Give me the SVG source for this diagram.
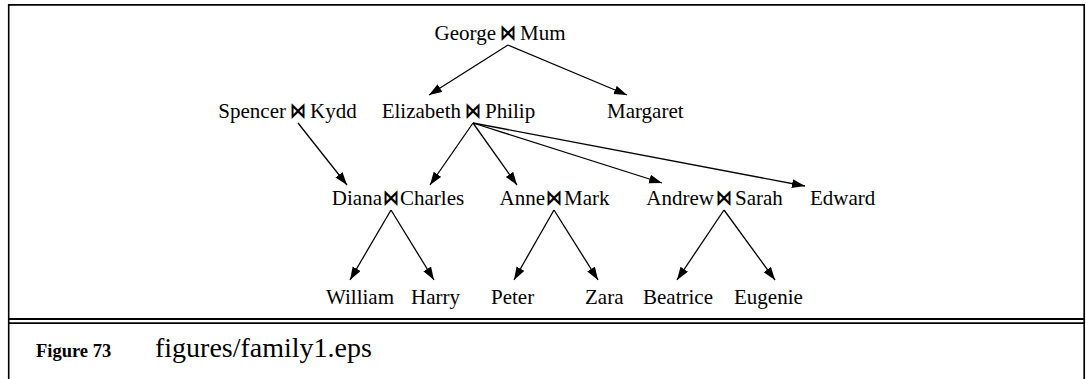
<svg xmlns="http://www.w3.org/2000/svg" width="1086" height="379" viewBox="0 0 1086 379">
<defs>
<style>
.t{font-family:"Liberation Serif","DejaVu Serif",serif;font-size:21px;fill:#000}
.b{font-family:"DejaVu Sans","DejaVu Serif",sans-serif;font-size:22px;font-weight:bold;fill:#000}
.e{stroke:#000;stroke-width:1.3;fill:none;marker-end:url(#ah)}
.f{stroke:#000;fill:none}
</style>
<marker id="ah" markerUnits="userSpaceOnUse" markerWidth="14" markerHeight="10" refX="13" refY="4.5" orient="auto">
<path d="M0,0 L13,4.5 L0,9 z" fill="#000"/>
</marker>
</defs>
<rect width="1086" height="379" fill="#fff"/>
<g id="frame">
<line class="f" x1="8" y1="4.8" x2="1085" y2="4.8" stroke-width="1.8"/>
<line class="f" x1="8.7" y1="4" x2="8.7" y2="379" stroke-width="1.6"/>
<line class="f" x1="1084.2" y1="4" x2="1084.2" y2="379" stroke-width="1.7"/>
<line class="f" x1="8" y1="319" x2="1085" y2="319" stroke-width="1.8"/>
<line class="f" x1="8" y1="323.2" x2="1085" y2="323.2" stroke-width="1.8"/>
</g>
<g id="connectors">
<line class="e" x1="508" y1="45" x2="429" y2="95"/>
<line class="e" x1="508" y1="45" x2="627" y2="95"/>
<line class="e" x1="298" y1="123" x2="347" y2="185"/>
<line class="e" x1="473" y1="123" x2="430" y2="185"/>
<line class="e" x1="473" y1="123" x2="517" y2="185"/>
<line class="e" x1="473" y1="123" x2="662" y2="183"/>
<line class="e" x1="473" y1="123" x2="805" y2="186"/>
<line class="e" x1="391" y1="210" x2="350" y2="280"/>
<line class="e" x1="391" y1="210" x2="434" y2="280"/>
<line class="e" x1="554" y1="210" x2="514" y2="280"/>
<line class="e" x1="554" y1="210" x2="598" y2="280"/>
<line class="e" x1="724" y1="210" x2="677" y2="280"/>
<line class="e" x1="724" y1="210" x2="775" y2="280"/>
</g>
<g id="george-mum">
<text class="t" x="496" y="40" text-anchor="end">George</text><text class="b" transform="translate(508,40) scale(0.75,1)" text-anchor="middle">⋈</text><text class="t" x="520" y="40">Mum</text>
</g>
<g id="spencer-kydd">
<text class="t" x="286" y="118" text-anchor="end">Spencer</text><text class="b" transform="translate(298,118) scale(0.75,1)" text-anchor="middle">⋈</text><text class="t" x="310" y="118">Kydd</text>
</g>
<g id="elizabeth-philip">
<text class="t" x="461" y="118" text-anchor="end">Elizabeth</text><text class="b" transform="translate(473,118) scale(0.75,1)" text-anchor="middle">⋈</text><text class="t" x="485" y="118">Philip</text>
</g>
<g id="margaret"><text class="t" x="607" y="118">Margaret</text></g>
<g id="diana-charles">
<text class="t" x="382" y="205" text-anchor="end">Diana</text><text class="b" transform="translate(391,205) scale(0.75,1)" text-anchor="middle">⋈</text><text class="t" x="400" y="205">Charles</text>
</g>
<g id="anne-mark">
<text class="t" x="545" y="205" text-anchor="end">Anne</text><text class="b" transform="translate(554,205) scale(0.75,1)" text-anchor="middle">⋈</text><text class="t" x="564" y="205">Mark</text>
</g>
<g id="andrew-sarah">
<text class="t" x="714" y="205" text-anchor="end">Andrew</text><text class="b" transform="translate(724,205) scale(0.75,1)" text-anchor="middle">⋈</text><text class="t" x="735" y="205">Sarah</text>
</g>
<g id="edward"><text class="t" x="810" y="205">Edward</text></g>
<g id="william"><text class="t" x="326" y="304">William</text></g>
<g id="harry"><text class="t" x="411" y="304">Harry</text></g>
<g id="peter"><text class="t" x="491" y="304">Peter</text></g>
<g id="zara"><text class="t" x="585" y="304">Zara</text></g>
<g id="beatrice"><text class="t" x="643" y="304">Beatrice</text></g>
<g id="eugenie"><text class="t" x="734" y="304">Eugenie</text></g>
<g id="caption">
<text x="36" y="357" font-family="Liberation Serif, serif" font-weight="bold" font-size="18.5">Figure 73</text>
<text x="155" y="357" font-family="Liberation Serif, serif" font-size="28">figures/family1.eps</text>
</g>
</svg>
